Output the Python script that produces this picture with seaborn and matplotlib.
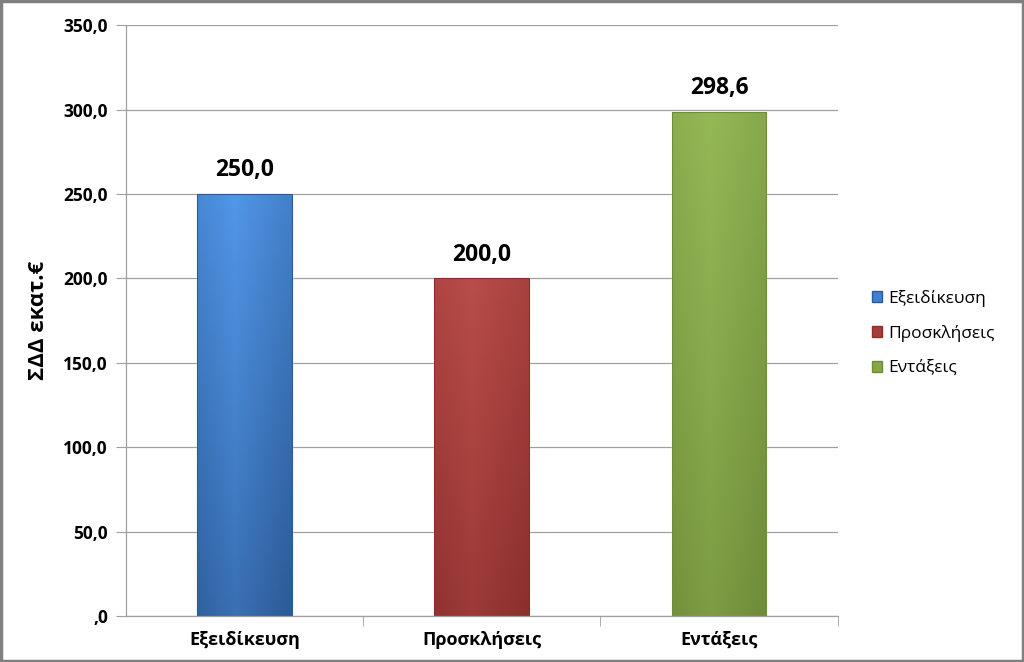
import numpy as np
import pandas as pd
import matplotlib
matplotlib.use("Agg")
import matplotlib.pyplot as plt
import seaborn as sns
from matplotlib.ticker import FuncFormatter, FixedLocator
from matplotlib.patches import Patch, Rectangle
from matplotlib.colors import LinearSegmentedColormap

categories = ["Εξειδίκευση", "Προσκλήσεις", "Εντάξεις"]
values = [250.0, 200.0, 298.6]
colors = ["#3f7fd2", "#a33d3b", "#86a646"]
light = ["#5196e8", "#b84d4a", "#95b856"]
dark = ["#2c5a96", "#8b2f2d", "#6f8c38"]

df = pd.DataFrame({"cat": categories, "val": values})

sns.set_style("white")
plt.rcParams["font.family"] = ["Open Sans", "DejaVu Sans"]
plt.rcParams["text.color"] = "black"
plt.rcParams["xtick.color"] = "black"
plt.rcParams["ytick.color"] = "black"
plt.rcParams["axes.labelcolor"] = "black"

fig = plt.figure(figsize=(10.24, 6.62), dpi=100)
ax = fig.add_axes([0.123, 0.0695, 0.695, 0.8925])

sns.barplot(data=df, x="cat", y="val", hue="cat", palette=colors,
            width=0.4, legend=False, ax=ax, saturation=1)

# gradient overlay on each bar
for i, bar in enumerate(ax.patches):
    x0, y0 = bar.get_x(), bar.get_y()
    w, h = bar.get_width(), bar.get_height()
    cmap = LinearSegmentedColormap.from_list("g", [dark[i], light[i]])
    xs = np.linspace(0, 1, 64)
    ys = np.linspace(0, 1, 64)
    X, Y = np.meshgrid(xs, ys)
    horiz = 1 - np.abs(X - 0.4) * 1.2
    grad = 0.55 * Y + 0.45 * horiz
    im = ax.imshow(grad, cmap=cmap, extent=[x0, x0 + w, y0, y0 + h],
                   origin="lower", aspect="auto", zorder=bar.get_zorder() + 0.1)
    im.set_clip_path(bar)
    edge = Rectangle((x0, y0), w, h, fill=False, edgecolor=dark[i],
                     linewidth=0.8, zorder=bar.get_zorder() + 0.2)
    ax.add_patch(edge)
    ax.text(x0 + w / 2, values[i] + 7, f"{values[i]:.1f}".replace(".", ","),
            ha="center", va="bottom", fontsize=16.5, fontweight="bold")

ax.set_xlim(-0.5, 2.5)
ax.set_ylim(0, 350)
ax.yaxis.set_major_locator(FixedLocator(np.arange(0, 351, 50)))
ax.yaxis.set_major_formatter(FuncFormatter(
    lambda v, p: ",0" if v == 0 else f"{v:.1f}".replace(".", ",")))
ax.grid(axis="y", color="#a0a0a0", linewidth=0.9)
ax.set_axisbelow(True)

for s in ["top", "right"]:
    ax.spines[s].set_visible(False)
for s in ["left", "bottom"]:
    ax.spines[s].set_color("#a0a0a0")
    ax.spines[s].set_linewidth(0.9)

ax.tick_params(axis="y", which="major", left=True, length=7, color="#a0a0a0",
               labelsize=12.5, pad=6)
ax.tick_params(axis="x", which="major", bottom=False, labelsize=13, pad=7)
ax.xaxis.set_minor_locator(FixedLocator([0.5, 1.5, 2.5]))
ax.tick_params(axis="x", which="minor", bottom=True, length=7, color="#a0a0a0")
for lbl in ax.get_yticklabels() + ax.get_xticklabels():
    lbl.set_fontweight("bold")

ax.set_xlabel("")
ax.set_ylabel("ΣΔΔ εκατ.€", fontsize=16, fontweight="bold", labelpad=10)

handles = [Patch(facecolor=colors[i], edgecolor=dark[i], label=categories[i])
           for i in range(3)]
fig.legend(handles=handles, loc="center left", bbox_to_anchor=(0.836, 0.497),
           frameon=False, fontsize=12.5, handlelength=0.6, handleheight=0.6,
           handletextpad=0.35, labelspacing=1.05)

fig.patches.append(Rectangle((0.001, 0.001), 0.998, 0.998, transform=fig.transFigure,
                             fill=False, edgecolor="#7f7f7f", linewidth=2.5))

fig.savefig("out.png", dpi=100)
